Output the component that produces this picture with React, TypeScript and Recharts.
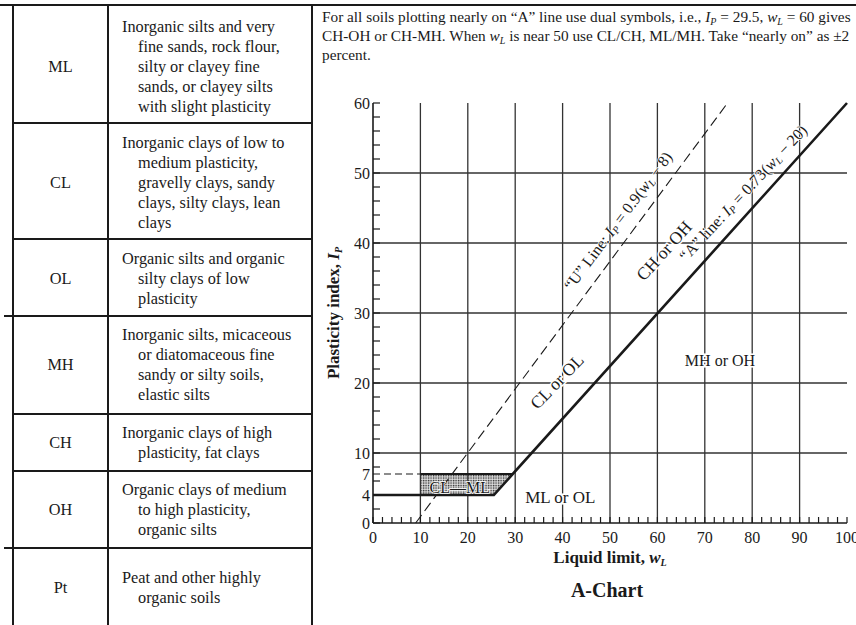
import React from 'react';
import { ComposedChart, Line, Area, XAxis, YAxis, ReferenceLine, ReferenceDot } from 'recharts';

const SERIF = '"Liberation Serif", "Times New Roman", serif';
const INK = '#1a1a1a';

// axis ticks
const X_LABELS = [0, 10, 20, 30, 40, 50, 60, 70, 80, 90, 100];
const X_MINOR = [0, 2, 4, 6, 8, 10, 12, 14, 16, 18, 20, 22, 24, 26, 28, 30, 32, 34, 36, 38, 40, 42, 44, 46, 48, 50, 52, 54, 56, 58, 60, 62, 64, 66, 68, 70, 72, 74, 76, 78, 80, 82, 84, 86, 88, 90, 92, 94, 96, 98, 100];
const Y_LABELS = [0, 4, 7, 10, 20, 30, 40, 50, 60];
const Y_MINOR = [0, 2, 4, 6, 8, 10, 12, 14, 16, 18, 20, 22, 24, 26, 28, 30, 32, 34, 36, 38, 40, 42, 44, 46, 48, 50, 52, 54, 56, 58, 60];
const Y_LEFT_TICKS = [0, 2, 4, 6, 7, 8, 10, 12, 14, 16, 18, 20, 22, 24, 26, 28, 30, 32, 34, 36, 38, 40, 42, 44, 46, 48, 50, 52, 54, 56, 58, 60];
const GRID_X = [10, 20, 30, 40, 50, 60, 70, 80, 90];
const GRID_Y = [10, 20, 30, 40, 50];

// lines on the chart (liquid limit wl, plasticity index ip)
const A_LINE = [{ wl: 0, ip: 4 }, { wl: 25.5, ip: 4 }, { wl: 100, ip: 60 }];
const U_LINE = [{ wl: 9, ip: 0 }, { wl: 74.8, ip: 60 }];
const DASH_7 = [{ wl: 0, ip: 7 }, { wl: 10, ip: 7 }];
const CLML_TOP = [{ wl: 10, ip: 7 }, { wl: 29.5, ip: 7 }];
const CLML_ZONE = [
  { wl: 10, band: [4, 7] },
  { wl: 25.5, band: [4, 7] },
  { wl: 29.5, band: [7, 7] },
];

type Part = { t: string; i?: boolean; sub?: boolean };

const ANNOTATIONS: { wl: number; ip: number; angle: number; size: number; halo: number; parts: Part[] }[] = [
  { wl: 51.6, ip: 43.2, angle: -53, size: 16, halo: 1.5, parts: [{ t: '“U” Line: ' }, { t: 'I', i: true }, { t: 'P', sub: true }, { t: ' = 0.9(' }, { t: 'w', i: true }, { t: 'L', sub: true }, { t: ' − 8)' }] },
  { wl: 78.0, ip: 47.2, angle: -47, size: 16, halo: 1.5, parts: [{ t: '“A” line: ' }, { t: 'I', i: true }, { t: 'P', sub: true }, { t: ' = 0.73(' }, { t: 'w', i: true }, { t: 'L', sub: true }, { t: ' − 20)' }] },
  { wl: 38.8, ip: 20.2, angle: -46, size: 17.5, halo: 3, parts: [{ t: 'CL or OL' }] },
  { wl: 61.4, ip: 38.9, angle: -48, size: 17.5, halo: 3, parts: [{ t: 'CH or OH' }] },
  { wl: 73.2, ip: 23.3, angle: 0, size: 16, halo: 3, parts: [{ t: 'MH or OH' }] },
  { wl: 39.5, ip: 3.7, angle: 0, size: 17, halo: 3, parts: [{ t: 'ML or OL' }] },
  { wl: 18.3, ip: 5.2, angle: 0, size: 16, halo: 1.5, parts: [{ t: 'CL—ML' }] },
];

const ROWS = [
  { code: 'ML', top: 5, pad: 12, lines: ['Inorganic silts and very', 'fine sands, rock flour,', 'silty or clayey fine', 'sands, or clayey silts', 'with slight plasticity'] },
  { code: 'CL', top: 123, pad: 10, lines: ['Inorganic clays of low to', 'medium plasticity,', 'gravelly clays, sandy', 'clays, silty clays, lean', 'clays'] },
  { code: 'OL', top: 239, pad: 10, lines: ['Organic silts and organic', 'silty clays of low', 'plasticity'] },
  { code: 'MH', top: 316, pad: 9, lines: ['Inorganic silts, micaceous', 'or diatomaceous fine', 'sandy or silty soils,', 'elastic silts'] },
  { code: 'CH', top: 414, pad: 9, lines: ['Inorganic clays of high', 'plasticity, fat clays'] },
  { code: 'OH', top: 471, pad: 9, lines: ['Organic clays of medium', 'to high plasticity,', 'organic silts'] },
  { code: 'Pt', top: 548, pad: 20, lines: ['Peat and other highly', 'organic soils'] },
];

const renderParts = (parts: Part[], size: number) => {
  let shifted = false;
  return parts.map((p, i) => {
    let dy = 0;
    if (p.sub && !shifted) { dy = 4; shifted = true; }
    else if (!p.sub && shifted) { dy = -4; shifted = false; }
    return (
      <tspan key={i} dy={dy || undefined} fontStyle={p.i || p.sub ? 'italic' : undefined} fontSize={p.sub ? size * 0.65 : undefined}>
        {p.t}
      </tspan>
    );
  });
};

const BottomTick = ({ x, y, payload }: any) => (
  <g>
    <line x1={x} x2={x} y1={y} y2={y - 6} stroke={INK} strokeWidth={1.2} />
    {X_LABELS.includes(payload.value) && (
      <text x={x} y={y + 20} textAnchor="middle" fill={INK} fontSize={16} fontFamily={SERIF}>{payload.value}</text>
    )}
  </g>
);

const TopTick = ({ x, y }: any) => (
  <line x1={x} x2={x} y1={y} y2={y + 6} stroke={INK} strokeWidth={1.2} />
);

const LeftTick = ({ x, y, payload }: any) => (
  <g>
    {Y_MINOR.includes(payload.value) && <line x1={x} x2={x + 7} y1={y} y2={y} stroke={INK} strokeWidth={1.2} />}
    {Y_LABELS.includes(payload.value) && (
      <text x={x - 3} y={y} dy="0.35em" textAnchor="end" fill={INK} fontSize={16} fontFamily={SERIF}>{payload.value}</text>
    )}
  </g>
);

const RightTick = ({ x, y }: any) => (
  <line x1={x} x2={x - 6} y1={y} y2={y} stroke={INK} strokeWidth={1.2} />
);

const PlasticityChart = () => (
  <ComposedChart width={543} height={463} margin={{ top: 13, right: 9, left: 20, bottom: 0 }}>
    <defs>
      <pattern id="stipple" width="2.5" height="2.5" patternUnits="userSpaceOnUse">
        <rect width="2.5" height="2.5" fill="#bbb" />
        <rect x="0" y="0" width="1.2" height="1.2" fill="#333" />
        <rect x="1.3" y="1.3" width="1" height="1" fill="#fff" />
      </pattern>
    </defs>
    <XAxis
      dataKey="wl" type="number" domain={[0, 100]} ticks={X_MINOR} interval={0}
      height={30} tickSize={0} tickMargin={0} tickLine={false}
      axisLine={{ stroke: INK, strokeWidth: 1.6 }} tick={(p: any) => <BottomTick {...p} />}
    />
    <XAxis
      xAxisId="top" orientation="top" dataKey="wl" type="number" domain={[0, 100]} allowDataOverflow
      ticks={X_MINOR} interval={0} height={0} tickSize={0} tickMargin={0} tickLine={false}
      axisLine={{ stroke: INK, strokeWidth: 1.6 }} tick={(p: any) => <TopTick {...p} />}
    />
    <YAxis
      type="number" domain={[0, 60]} ticks={Y_LEFT_TICKS} interval={0}
      width={40} tickSize={0} tickMargin={0} tickLine={false}
      axisLine={{ stroke: INK, strokeWidth: 1.6 }} tick={(p: any) => <LeftTick {...p} />}
    />
    <YAxis
      yAxisId="right" orientation="right" type="number" domain={[0, 60]} allowDataOverflow
      ticks={Y_MINOR} interval={0} width={0} tickSize={0} tickMargin={0} tickLine={false}
      axisLine={{ stroke: INK, strokeWidth: 1.6 }} tick={(p: any) => <RightTick {...p} />}
    />

    {GRID_X.map((v) => (
      <ReferenceLine key={'gx' + v} x={v} stroke="#333" strokeWidth={1.3} />
    ))}
    {GRID_Y.map((v) => (
      <ReferenceLine key={'gy' + v} y={v} stroke="#333" strokeWidth={1.3} />
    ))}

    <Area data={CLML_ZONE} dataKey="band" type="linear" stroke="none" fill="url(#stipple)" fillOpacity={1} isAnimationActive={false} />
    <Line data={DASH_7} dataKey="ip" type="linear" stroke={INK} strokeWidth={1.2} strokeDasharray="7 4" dot={false} isAnimationActive={false} />
    <Line data={U_LINE} dataKey="ip" type="linear" stroke={INK} strokeWidth={1.1} strokeDasharray="10 5" dot={false} isAnimationActive={false} />
    <Line data={CLML_TOP} dataKey="ip" type="linear" stroke={INK} strokeWidth={2.2} dot={false} isAnimationActive={false} />
    <Line data={A_LINE} dataKey="ip" type="linear" stroke={INK} strokeWidth={2.6} dot={false} isAnimationActive={false} />

    {ANNOTATIONS.map((a, i) => (
      <ReferenceDot
        key={'a' + i} x={a.wl} y={a.ip} r={1}
        shape={(p: any) => (
          <text
            x={p.cx} y={p.cy} textAnchor="middle" dominantBaseline="central"
            transform={`rotate(${a.angle} ${p.cx} ${p.cy})`}
            fontFamily={SERIF} fontSize={a.size} fill={INK}
            stroke="#fff" strokeWidth={a.halo} paintOrder="stroke"
          >
            {renderParts(a.parts, a.size)}
          </text>
        )}
      />
    ))}
  </ComposedChart>
);

const Sub = ({ children }: { children: React.ReactNode }) => (
  <span style={{ fontSize: 10, fontStyle: 'italic', position: 'relative', top: 3 }}>{children}</span>
);

export default function App() {
  return (
    <div style={{ position: 'absolute', left: 0, top: 0, width: 856, height: 625, overflow: 'hidden', background: '#fff', fontFamily: SERIF, color: INK }}>
      {/* frame */}
      <div style={{ position: 'absolute', left: 0, top: 4, width: 856, height: 2, background: INK }} />
      <div style={{ position: 'absolute', left: 12, top: 4, width: 2, height: 625, background: INK }} />
      <div style={{ position: 'absolute', left: 107, top: 4, width: 2, height: 625, background: INK }} />
      <div style={{ position: 'absolute', left: 311, top: 4, width: 2, height: 625, background: INK }} />

      {ROWS.map((r, i) => (
        <React.Fragment key={r.code}>
          {i > 0 && <div style={{ position: 'absolute', left: r.code === 'MH' || r.code === 'Pt' ? 4 : 12, top: r.top - 1, width: r.code === 'MH' || r.code === 'Pt' ? 308 : 300, height: 2, background: INK }} />}
          <div style={{ position: 'absolute', left: 14, width: 93, top: r.top + r.pad, height: r.lines.length * 20, display: 'flex', alignItems: 'center', justifyContent: 'center', fontSize: 16.3 }}>
            {r.code}
          </div>
          <div style={{ position: 'absolute', left: 122, top: r.top + r.pad, fontSize: 16.3, lineHeight: '20px', whiteSpace: 'nowrap' }}>
            {r.lines.map((l, j) => (
              <div key={j} style={{ marginLeft: j === 0 ? 0 : 16 }}>{l}</div>
            ))}
          </div>
        </React.Fragment>
      ))}

      {/* note above the chart */}
      <div style={{ position: 'absolute', left: 322, top: 8, fontSize: 15.3, lineHeight: '17px', whiteSpace: 'nowrap' }}>
        <div>For all soils plotting nearly on “A” line use dual symbols, i.e., <i>I</i><Sub>P</Sub> = 29.5, <i>w</i><Sub>L</Sub> = 60 gives</div>
        <div>CH-OH or CH-MH. When <i>w</i><Sub>L</Sub> is near 50 use CL/CH, ML/MH. Take “nearly on” as ±2</div>
        <div>percent.</div>
      </div>

      <div style={{ position: 'absolute', left: 313, top: 90 }}>
        <PlasticityChart />
      </div>

      <div style={{ position: 'absolute', left: 334, top: 313, transform: 'translate(-50%, -50%) rotate(-90deg)', fontSize: 17, fontWeight: 'bold', whiteSpace: 'nowrap' }}>
        Plasticity index, <i>I</i><Sub>P</Sub>
      </div>
      <div style={{ position: 'absolute', left: 610, top: 558, transform: 'translate(-50%, -50%)', fontSize: 17, fontWeight: 'bold', whiteSpace: 'nowrap' }}>
        Liquid limit, <i>w</i><Sub>L</Sub>
      </div>
      <div style={{ position: 'absolute', left: 607, top: 590, transform: 'translate(-50%, -50%)', fontSize: 20, fontWeight: 'bold', whiteSpace: 'nowrap' }}>
        A-Chart
      </div>
    </div>
  );
}
